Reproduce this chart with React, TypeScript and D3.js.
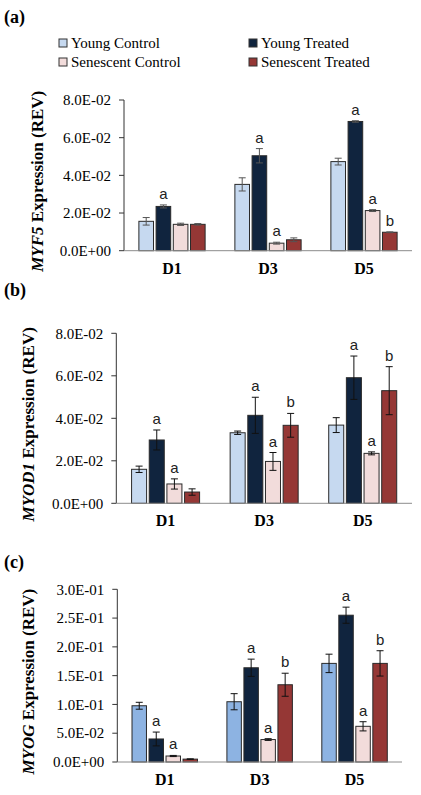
import * as d3 from "d3";
import { useEffect, useRef } from "react";

const days = ["D1", "D3", "D5"];
const series = ["Young Control", "Young Treated", "Senescent Control", "Senescent Treated"];

// MYF5 (a)
const myf5Mean = [
  [0.0156, 0.0235, 0.014, 0.014],
  [0.0352, 0.0504, 0.004, 0.0058],
  [0.0473, 0.0686, 0.0213, 0.0098],
];
const myf5Err = [
  [0.002, 0.0008, 0.0006, 0.0004],
  [0.0035, 0.0038, 0.0005, 0.001],
  [0.0018, 0.0004, 0.0005, 0.0002],
];
const myf5Letters = [
  ["", "a", "", ""],
  ["", "a", "a", ""],
  ["", "a", "a", "b"],
];

// MYOD1 (b)
const myod1Mean = [
  [0.016, 0.0298, 0.0091, 0.0053],
  [0.0332, 0.0414, 0.0197, 0.0367],
  [0.0368, 0.0591, 0.0235, 0.053],
];
const myod1Err = [
  [0.0015, 0.0047, 0.0024, 0.0015],
  [0.0008, 0.0085, 0.0042, 0.0056],
  [0.0035, 0.0102, 0.0007, 0.0113],
];
const myod1Letters = [
  ["", "a", "a", ""],
  ["", "a", "a", "b"],
  ["", "a", "a", "b"],
];

// MYOG (c)
const myogMean = [
  [0.0977, 0.04, 0.0104, 0.005],
  [0.1047, 0.1637, 0.039, 0.1342],
  [0.1713, 0.255, 0.062, 0.1713],
];
const myogErr = [
  [0.006, 0.012, 0.001, 0.0005],
  [0.014, 0.015, 0.0015, 0.02],
  [0.016, 0.014, 0.008, 0.022],
];
const myogLetters = [
  ["", "a", "a", ""],
  ["", "a", "a", "b"],
  ["", "a", "a", "b"],
];

const ticksAB = [0, 0.02, 0.04, 0.06, 0.08];
const ticksC = [0, 0.05, 0.1, 0.15, 0.2, 0.25, 0.3];

const colorsAB = ["#c6d9f0", "#10243e", "#f2dcdb", "#953735"];
const colorsC = ["#8db3e2", "#10243e", "#f2dcdb", "#953735"];

const sci = (v: number) => {
  if (v === 0) return "0.0E+00";
  const [m, e] = v.toExponential(1).split("e");
  const n = +e;
  return `${m}E${n < 0 ? "-" : "+"}${String(Math.abs(n)).padStart(2, "0")}`;
};

const serif = "'Liberation Serif', 'Times New Roman', serif";

export default function App() {
  const svgRef = useRef<SVGSVGElement>(null);

  useEffect(() => {
    const svg = d3.select(svgRef.current);
    svg.selectAll("*").remove();

    const panels = [
      {
        label: "(a)", labelY: 23, gene: "MYF5", titleX: 43,
        mean: myf5Mean, err: myf5Err, letters: myf5Letters,
        ticks: ticksAB, max: 0.08, x0: 124, x1: 412, yTop: 100, yBot: 250.7,
        colors: colorsAB, errColor: "#555",
      },
      {
        label: "(b)", labelY: 296, gene: "MYOD1", titleX: 34,
        mean: myod1Mean, err: myod1Err, letters: myod1Letters,
        ticks: ticksAB, max: 0.08, x0: 116.3, x1: 412, yTop: 333.3, yBot: 503.3,
        colors: colorsAB, errColor: "#111",
      },
      {
        label: "(c)", labelY: 568, gene: "MYOG", titleX: 34,
        mean: myogMean, err: myogErr, letters: myogLetters,
        ticks: ticksC, max: 0.3, x0: 117.3, x1: 402, yTop: 589.3, yBot: 762,
        colors: colorsC, errColor: "#111",
      },
    ];

    panels.forEach((p) => {
      const g = svg.append("g");
      const y = d3.scaleLinear().domain([0, p.max]).range([p.yBot, p.yTop]);
      const x = d3
        .scaleBand()
        .domain(days)
        .range([p.x0, p.x1])
        .paddingInner(0.31)
        .paddingOuter(0.155);
      const xs = d3
        .scaleBand()
        .domain(series)
        .range([0, x.bandwidth()])
        .paddingInner(0.15);

      // panel label
      g.append("text")
        .attr("x", 4)
        .attr("y", p.labelY)
        .attr("font-family", serif)
        .attr("font-weight", "bold")
        .attr("font-size", 18)
        .text(p.label);

      // y axis
      g.append("line")
        .attr("x1", p.x0).attr("x2", p.x0)
        .attr("y1", p.yTop).attr("y2", p.yBot)
        .attr("stroke", "#333");
      p.ticks.forEach((t) => {
        g.append("line")
          .attr("x1", p.x0 - 5).attr("x2", p.x0)
          .attr("y1", y(t)).attr("y2", y(t))
          .attr("stroke", "#333");
        g.append("text")
          .attr("x", p.x0 - 13)
          .attr("y", y(t))
          .attr("dy", "0.35em")
          .attr("text-anchor", "end")
          .attr("font-family", serif)
          .attr("font-size", 15)
          .text(sci(t));
      });

      // y title
      const title = g.append("text")
        .attr("transform", `translate(${p.titleX},${(p.yTop + p.yBot) / 2 + 6}) rotate(-90)`)
        .attr("text-anchor", "middle")
        .attr("font-family", serif)
        .attr("font-weight", "bold")
        .attr("font-size", 17);
      title.append("tspan").attr("font-style", "italic").text(p.gene);
      title.append("tspan").text(" Expression (REV)");

      // bars
      days.forEach((day, i) => {
        series.forEach((s, j) => {
          const bx = (x(day) ?? 0) + (xs(s) ?? 0);
          const v = p.mean[i][j];
          const e = p.err[i][j];
          g.append("rect")
            .attr("x", bx)
            .attr("y", y(v))
            .attr("width", xs.bandwidth())
            .attr("height", p.yBot - y(v))
            .attr("fill", p.colors[j])
            .attr("stroke", "#2a2a2a")
            .attr("stroke-width", 1);
          const cx = bx + xs.bandwidth() / 2;
          g.append("line")
            .attr("x1", cx).attr("x2", cx)
            .attr("y1", y(v - e)).attr("y2", y(v + e))
            .attr("stroke", p.errColor);
          [v - e, v + e].forEach((yy) => {
            g.append("line")
              .attr("x1", cx - 3.5).attr("x2", cx + 3.5)
              .attr("y1", y(yy)).attr("y2", y(yy))
              .attr("stroke", p.errColor);
          });
          if (p.letters[i][j]) {
            g.append("text")
              .attr("x", cx)
              .attr("y", y(v + e) - 6)
              .attr("text-anchor", "middle")
              .attr("font-family", "'Liberation Sans', Arial, sans-serif")
              .attr("font-size", 15)
              .attr("fill", "#222")
              .text(p.letters[i][j]);
          }
        });
        g.append("text")
          .attr("x", (x(day) ?? 0) + x.bandwidth() / 2)
          .attr("y", p.yBot + 23)
          .attr("text-anchor", "middle")
          .attr("font-family", serif)
          .attr("font-weight", "bold")
          .attr("font-size", 16)
          .text(day);
      });

      // x axis
      g.append("line")
        .attr("x1", p.x0).attr("x2", p.x1)
        .attr("y1", p.yBot).attr("y2", p.yBot)
        .attr("stroke", "#8c8c8c");
    });

    // legend
    const lg = svg.append("g");
    series.forEach((s, j) => {
      const lx = j % 2 === 0 ? 59 : 249;
      const ly = j < 2 ? 43 : 62;
      lg.append("rect")
        .attr("x", lx).attr("y", ly - 4)
        .attr("width", 8).attr("height", 8)
        .attr("fill", colorsAB[j])
        .attr("stroke", "#333");
      lg.append("text")
        .attr("x", lx + 12)
        .attr("y", ly + 5)
        .attr("font-family", serif)
        .attr("font-size", 15)
        .text(s);
    });
  }, []);

  return (
    <svg
      ref={svgRef}
      width={421}
      height={795}
      style={{ position: "absolute", left: 0, top: 0, background: "#fff" }}
    />
  );
}
